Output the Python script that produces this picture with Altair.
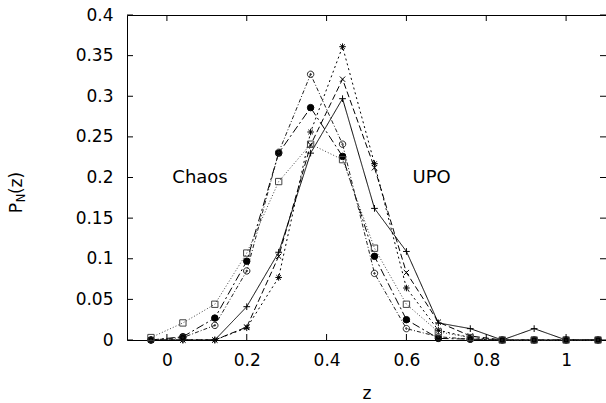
import altair as alt
import pandas as pd

# ---- data ----
z_vals = [-0.04, 0.04, 0.12, 0.20, 0.28, 0.36, 0.44, 0.52, 0.60, 0.68, 0.76, 0.84, 0.92, 1.00, 1.08]

s_plus   = [0.0, 0.0, 0.0, 0.041, 0.108, 0.230, 0.297, 0.162, 0.109, 0.021, 0.014, 0.0, 0.014, 0.0, 0.0]
s_cross  = [0.0, 0.0, 0.0, 0.016, 0.103, 0.240, 0.321, 0.212, 0.083, 0.022, 0.005, 0.0, 0.0, 0.0, 0.0]
s_star   = [0.0, 0.0, 0.0, 0.015, 0.077, 0.256, 0.361, 0.217, 0.064, 0.012, 0.003, 0.0, 0.0, 0.0, 0.0]
s_fcirc  = [0.0, 0.004, 0.027, 0.097, 0.230, 0.286, 0.226, 0.103, 0.025, 0.002, 0.001, 0.0, 0.0, 0.0, 0.0]
s_ocirc  = [0.0, 0.003, 0.018, 0.085, 0.231, 0.327, 0.241, 0.082, 0.014, 0.004, 0.001, 0.0, 0.0, 0.0, 0.0]
s_square = [0.003, 0.021, 0.044, 0.107, 0.195, 0.241, 0.222, 0.113, 0.044, 0.010, 0.003, 0.0, 0.0, 0.0, 0.0]

series_names = ["plus", "cross", "star", "fcirc", "ocirc", "square"]
series_vals = [s_plus, s_cross, s_star, s_fcirc, s_ocirc, s_square]

x_ticks = [0, 0.2, 0.4, 0.6, 0.8, 1]
y_ticks = [0, 0.05, 0.1, 0.15, 0.2, 0.25, 0.3, 0.35, 0.4]

ann_text = ["Chaos", "UPO"]
ann_z = [0.083, 0.663]
ann_p = [0.2, 0.2]

FONT = "DejaVu Sans"
FS = 17

# ---- build tables ----
rows = []
for name, vals in zip(series_names, series_vals):
    for z, p in zip(z_vals, vals):
        rows.append({"z": z, "p": p, "s": name})
df = pd.DataFrame(rows)

W, H = 479, 325
xs = alt.Scale(domain=[-0.1, 1.1], nice=False, zero=False)
ys = alt.Scale(domain=[0, 0.4], nice=False, zero=False)

shape_plus = "M-1,0L1,0M0,-1L0,1"
shape_x = "M-0.8,-0.8L0.8,0.8M-0.8,0.8L0.8,-0.8"
shape_star = "M-1,0L1,0M0,-1L0,1M-0.7,-0.7L0.7,0.7M-0.7,0.7L0.7,-0.7"
shape_odot = "M1,0A1,1,0,1,1,-1,0A1,1,0,1,1,1,0M0.25,0A0.25,0.25,0,1,1,-0.25,0A0.25,0.25,0,1,1,0.25,0"

stroke_scale = alt.Scale(domain=series_names,
                         range=["#000000", "#000000", "#000000", "#000000", "#222222", "#444444"])
dash_scale = alt.Scale(domain=series_names,
                       range=[[1, 0], [6, 3], [2, 3], [8, 3, 2, 3], [4, 2, 1, 2], [1, 2]])
shape_scale = alt.Scale(domain=series_names,
                        range=[shape_plus, shape_x, shape_star, "circle", shape_odot, "square"])
fill_scale = alt.Scale(domain=series_names,
                       range=["transparent", "transparent", "transparent", "#000000", "transparent", "transparent"])
size_scale = alt.Scale(domain=series_names, range=[45, 40, 45, 28, 40, 40])

base = alt.Chart(df)

lines = base.mark_line(strokeWidth=1).encode(
    x=alt.X("z:Q", scale=xs,
            axis=alt.Axis(values=x_ticks, format="~g", grid=False, ticks=False, tickSize=0,
                          domain=False, labelPadding=12, title="z", titlePadding=17)),
    y=alt.Y("p:Q", scale=ys,
            axis=alt.Axis(values=y_ticks, format="~g", grid=False, ticks=False, tickSize=0,
                          domain=False, labelPadding=14, title=None)),
    stroke=alt.Stroke("s:N", scale=stroke_scale, legend=None),
    strokeDash=alt.StrokeDash("s:N", scale=dash_scale, legend=None),
    detail="s:N",
)

points = base.mark_point(strokeWidth=1, opacity=1).encode(
    x=alt.X("z:Q", scale=xs),
    y=alt.Y("p:Q", scale=ys),
    stroke=alt.Stroke("s:N", scale=stroke_scale, legend=None),
    shape=alt.Shape("s:N", scale=shape_scale, legend=None),
    fill=alt.Fill("s:N", scale=fill_scale, legend=None),
    size=alt.Size("s:N", scale=size_scale, legend=None),
)

# inward ticks (gnuplot style) on all four sides
xt = pd.DataFrame({"z": x_ticks})
yt = pd.DataFrame({"p": y_ticks})
tick_bottom = alt.Chart(xt).mark_rule(color="black", strokeWidth=1).encode(
    x=alt.X("z:Q", scale=xs), y=alt.value(H), y2=alt.value(H - 6))
tick_top = alt.Chart(xt).mark_rule(color="black", strokeWidth=1).encode(
    x=alt.X("z:Q", scale=xs), y=alt.value(0), y2=alt.value(6))
tick_left = alt.Chart(yt).mark_rule(color="black", strokeWidth=1).encode(
    y=alt.Y("p:Q", scale=ys), x=alt.value(0), x2=alt.value(6))
tick_right = alt.Chart(yt).mark_rule(color="black", strokeWidth=1).encode(
    y=alt.Y("p:Q", scale=ys), x=alt.value(W), x2=alt.value(W - 6))

ann = alt.Chart(pd.DataFrame({"t": ann_text, "z": ann_z, "p": ann_p})).mark_text(
    fontSize=FS + 1, font=FONT, color="black", align="center", baseline="middle"
).encode(x=alt.X("z:Q", scale=xs), y=alt.Y("p:Q", scale=ys), text="t:N")

# y-axis title P_N(z) with subscript
ylab_p = alt.Chart(pd.DataFrame({"t": ["P"]})).mark_text(
    fontSize=FS, font=FONT, angle=270, align="center", baseline="middle", color="black"
).encode(text="t:N", x=alt.value(-110), y=alt.value(193))
ylab_n = alt.Chart(pd.DataFrame({"t": ["N"]})).mark_text(
    fontSize=11.5, font=FONT, angle=270, align="center", baseline="middle", color="black"
).encode(text="t:N", x=alt.value(-105), y=alt.value(183))
ylab_z = alt.Chart(pd.DataFrame({"t": ["(z)"]})).mark_text(
    fontSize=FS, font=FONT, angle=270, align="center", baseline="middle", color="black"
).encode(text="t:N", x=alt.value(-110), y=alt.value(168))

chart = alt.layer(
    lines, points, tick_bottom, tick_top, tick_left, tick_right, ann, ylab_p, ylab_n, ylab_z
).properties(
    width=W, height=H,
    background="white",
    autosize=alt.AutoSizeParams(type="none"),
    padding={"left": 127, "top": 15, "right": 0, "bottom": 63},
).configure_view(
    stroke="black", strokeWidth=1
).configure_axis(
    labelFont=FONT, labelFontSize=FS, labelColor="black",
    titleFont=FONT, titleFontSize=FS, titleColor="black", titleFontWeight="normal",
)

chart.save("out.html", embed_options={"renderer": "svg", "actions": False})
